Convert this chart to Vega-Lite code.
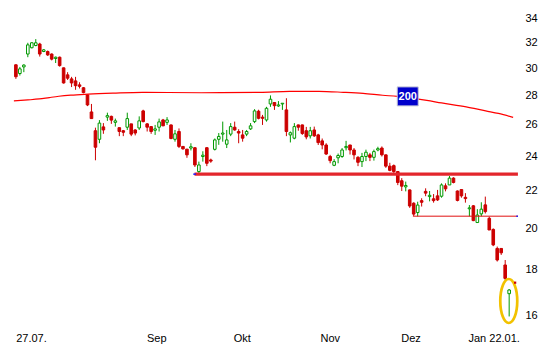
{
  "$schema": "https://vega.github.io/schema/vega-lite/v6.json",
  "width": 518,
  "height": 330,
  "autosize": "none",
  "padding": {"left": 5, "top": 0, "right": 17, "bottom": 30},
  "background": "white",
  "config": {
    "view": {"stroke": null},
    "axis": {"domain": false, "ticks": false, "grid": false, "labelFont": "Liberation Sans", "labelFontSize": 11, "labelColor": "#000000", "title": null}
  },
  "datasets": {
    "candles": [
      {"i":0,"o":30.26,"h":30.3,"l":29.2,"c":29.36},
      {"i":1,"o":29.6,"h":30.1,"l":29.45,"c":29.95},
      {"i":2,"o":30.1,"h":30.3,"l":29.7,"c":30.24},
      {"i":3,"o":31.1,"h":32.0,"l":30.85,"c":31.83},
      {"i":4,"o":31.6,"h":32.05,"l":31.55,"c":32.0},
      {"i":5,"o":31.78,"h":32.3,"l":31.72,"c":32.0},
      {"i":6,"o":31.9,"h":32.0,"l":30.9,"c":31.1},
      {"i":7,"o":31.3,"h":31.5,"l":31.25,"c":31.43},
      {"i":8,"o":31.3,"h":31.38,"l":30.95,"c":31.03},
      {"i":9,"o":31.1,"h":31.15,"l":30.6,"c":30.7},
      {"i":10,"o":30.75,"h":30.9,"l":30.4,"c":30.85},
      {"i":11,"o":30.85,"h":30.9,"l":30.12,"c":30.2},
      {"i":12,"o":30.03,"h":30.05,"l":28.85,"c":28.9},
      {"i":13,"o":29.5,"h":29.7,"l":29.12,"c":29.25},
      {"i":14,"o":29.2,"h":29.35,"l":28.6,"c":28.9},
      {"i":15,"o":29.05,"h":29.35,"l":28.4,"c":28.7},
      {"i":16,"o":28.76,"h":28.95,"l":28.5,"c":28.65},
      {"i":17,"o":28.55,"h":28.6,"l":28.15,"c":28.2},
      {"i":18,"o":28.04,"h":28.05,"l":27.25,"c":27.33},
      {"i":19,"o":26.85,"h":27.4,"l":26.4,"c":26.4},
      {"i":20,"o":25.6,"h":25.8,"l":23.75,"c":24.55},
      {"i":21,"o":25.05,"h":26.3,"l":24.8,"c":26.1},
      {"i":22,"o":25.85,"h":26.1,"l":25.4,"c":25.65},
      {"i":23,"o":26.5,"h":26.8,"l":26.25,"c":26.6},
      {"i":24,"o":26.55,"h":26.6,"l":26.05,"c":26.3},
      {"i":25,"o":26.15,"h":26.4,"l":25.87,"c":26.25},
      {"i":26,"o":25.8,"h":25.8,"l":25.25,"c":25.55},
      {"i":27,"o":25.6,"h":25.65,"l":25.25,"c":25.5},
      {"i":28,"o":25.83,"h":26.8,"l":25.65,"c":26.4},
      {"i":29,"o":26.05,"h":26.05,"l":25.25,"c":25.38},
      {"i":30,"o":25.65,"h":25.7,"l":25.3,"c":25.45},
      {"i":31,"o":25.78,"h":26.55,"l":25.65,"c":26.25},
      {"i":32,"o":26.92,"h":27.0,"l":26.15,"c":26.2},
      {"i":33,"o":26.05,"h":26.1,"l":25.55,"c":25.83},
      {"i":34,"o":25.87,"h":25.9,"l":25.4,"c":25.55},
      {"i":35,"o":25.63,"h":25.98,"l":25.33,"c":25.72},
      {"i":36,"o":25.83,"h":26.4,"l":25.55,"c":26.18},
      {"i":37,"o":26.31,"h":26.38,"l":25.9,"c":25.92},
      {"i":38,"o":26.15,"h":26.5,"l":25.98,"c":26.31},
      {"i":39,"o":25.98,"h":26.0,"l":25.05,"c":25.1},
      {"i":40,"o":25.05,"h":25.65,"l":24.9,"c":25.4},
      {"i":41,"o":25.55,"h":25.75,"l":24.5,"c":24.6},
      {"i":42,"o":24.6,"h":24.6,"l":24.4,"c":24.45},
      {"i":43,"o":24.43,"h":24.45,"l":23.9,"c":24.08},
      {"i":44,"o":24.5,"h":24.8,"l":24.35,"c":24.58},
      {"i":45,"o":24.52,"h":24.55,"l":23.35,"c":23.47},
      {"i":46,"o":23.08,"h":23.67,"l":23.0,"c":23.47},
      {"i":47,"o":23.98,"h":24.3,"l":23.67,"c":24.06},
      {"i":48,"o":24.52,"h":24.55,"l":23.4,"c":23.57},
      {"i":49,"o":23.77,"h":23.85,"l":23.6,"c":23.7},
      {"i":50,"o":24.42,"h":25.1,"l":24.35,"c":25.01},
      {"i":51,"o":25.05,"h":25.45,"l":24.7,"c":25.23},
      {"i":52,"o":25.38,"h":26.2,"l":24.9,"c":25.45},
      {"i":53,"o":24.74,"h":25.65,"l":24.5,"c":25.01},
      {"i":54,"o":25.38,"h":26.1,"l":25.25,"c":25.87},
      {"i":55,"o":25.83,"h":26.2,"l":25.6,"c":25.65},
      {"i":56,"o":25.55,"h":25.7,"l":24.8,"c":25.45},
      {"i":57,"o":25.33,"h":25.65,"l":24.9,"c":25.12},
      {"i":58,"o":25.38,"h":25.65,"l":25.25,"c":25.55},
      {"i":59,"o":25.72,"h":26.1,"l":25.65,"c":25.92},
      {"i":60,"o":26.2,"h":27.04,"l":26.1,"c":26.92},
      {"i":61,"o":26.9,"h":27.0,"l":26.35,"c":26.42},
      {"i":62,"o":26.5,"h":26.65,"l":25.98,"c":26.42},
      {"i":63,"o":26.31,"h":27.2,"l":26.2,"c":27.1},
      {"i":64,"o":27.4,"h":28.0,"l":27.2,"c":27.73},
      {"i":65,"o":27.5,"h":27.5,"l":26.99,"c":27.28},
      {"i":66,"o":27.26,"h":27.6,"l":27.2,"c":27.33},
      {"i":67,"o":27.4,"h":27.45,"l":26.99,"c":27.45},
      {"i":68,"o":26.99,"h":27.8,"l":25.25,"c":25.55},
      {"i":69,"o":25.33,"h":25.55,"l":24.85,"c":25.47},
      {"i":70,"o":25.12,"h":26.1,"l":25.05,"c":25.87},
      {"i":71,"o":25.98,"h":26.0,"l":25.6,"c":25.83},
      {"i":72,"o":25.98,"h":26.0,"l":25.33,"c":25.42},
      {"i":73,"o":25.6,"h":25.85,"l":25.05,"c":25.2},
      {"i":74,"o":25.27,"h":25.85,"l":25.1,"c":25.6},
      {"i":75,"o":25.65,"h":25.87,"l":25.2,"c":25.27},
      {"i":76,"o":25.33,"h":25.4,"l":24.69,"c":24.84},
      {"i":77,"o":24.95,"h":25.1,"l":24.42,"c":24.69},
      {"i":78,"o":24.69,"h":24.8,"l":24.08,"c":24.13},
      {"i":79,"o":23.98,"h":24.08,"l":23.57,"c":23.73},
      {"i":80,"o":23.45,"h":23.82,"l":23.4,"c":23.67},
      {"i":81,"o":23.9,"h":24.16,"l":23.57,"c":24.04},
      {"i":82,"o":23.98,"h":24.5,"l":23.9,"c":24.38},
      {"i":83,"o":24.52,"h":24.95,"l":24.35,"c":24.6},
      {"i":84,"o":24.69,"h":24.7,"l":24.1,"c":24.38},
      {"i":85,"o":24.38,"h":24.5,"l":23.8,"c":24.08},
      {"i":86,"o":23.93,"h":24.0,"l":23.4,"c":23.63},
      {"i":87,"o":23.67,"h":24.2,"l":23.35,"c":23.98},
      {"i":88,"o":23.98,"h":24.4,"l":23.7,"c":24.24},
      {"i":89,"o":24.08,"h":24.2,"l":23.7,"c":23.93},
      {"i":90,"o":23.93,"h":24.4,"l":23.73,"c":24.28},
      {"i":91,"o":24.38,"h":24.58,"l":24.3,"c":24.46},
      {"i":92,"o":24.5,"h":24.6,"l":23.98,"c":24.08},
      {"i":93,"o":24.08,"h":24.1,"l":23.3,"c":23.4},
      {"i":94,"o":23.4,"h":23.6,"l":23.1,"c":23.15},
      {"i":95,"o":23.43,"h":23.5,"l":23.0,"c":23.08},
      {"i":96,"o":23.08,"h":23.1,"l":22.3,"c":22.45},
      {"i":97,"o":22.55,"h":22.7,"l":21.97,"c":22.24},
      {"i":98,"o":22.2,"h":22.5,"l":21.95,"c":22.28},
      {"i":99,"o":22.03,"h":22.05,"l":21.05,"c":21.15},
      {"i":100,"o":21.3,"h":21.35,"l":20.62,"c":20.72},
      {"i":101,"o":20.8,"h":21.38,"l":20.6,"c":21.2},
      {"i":102,"o":21.44,"h":21.57,"l":21.12,"c":21.35},
      {"i":103,"o":21.95,"h":22.12,"l":21.68,"c":21.85},
      {"i":104,"o":21.66,"h":21.97,"l":21.4,"c":21.73},
      {"i":105,"o":21.54,"h":21.8,"l":21.33,"c":21.44},
      {"i":106,"o":21.7,"h":22.03,"l":21.42,"c":21.48},
      {"i":107,"o":21.68,"h":22.4,"l":21.6,"c":22.31},
      {"i":108,"o":22.26,"h":22.4,"l":21.95,"c":22.09},
      {"i":109,"o":22.31,"h":22.82,"l":22.31,"c":22.7},
      {"i":110,"o":22.7,"h":22.75,"l":22.4,"c":22.45},
      {"i":111,"o":21.97,"h":22.0,"l":21.4,"c":21.45},
      {"i":112,"o":22.05,"h":22.05,"l":21.6,"c":21.7},
      {"i":113,"o":21.62,"h":21.85,"l":21.33,"c":21.55},
      {"i":114,"o":21.0,"h":21.2,"l":20.6,"c":21.05},
      {"i":115,"o":21.16,"h":21.2,"l":20.35,"c":20.38},
      {"i":116,"o":20.28,"h":20.98,"l":20.28,"c":20.67},
      {"i":117,"o":20.73,"h":21.35,"l":20.6,"c":20.98},
      {"i":118,"o":21.21,"h":21.66,"l":20.75,"c":20.85},
      {"i":119,"o":20.5,"h":20.58,"l":19.9,"c":19.9},
      {"i":120,"o":19.93,"h":19.98,"l":19.1,"c":19.16},
      {"i":121,"o":18.99,"h":19.08,"l":18.37,"c":18.44},
      {"i":122,"o":18.99,"h":19.0,"l":18.68,"c":18.78},
      {"i":123,"o":18.21,"h":18.44,"l":17.53,"c":17.6},
      {"i":124,"o":16.93,"h":17.13,"l":15.98,"c":17.09}
    ],
    "ma200": [
      {"i":-0.5,"v":27.61},{"i":3,"v":27.68},{"i":5.9,"v":27.75},{"i":8.4,"v":27.85},
      {"i":10.8,"v":27.94},{"i":13.8,"v":28.02},{"i":18.2,"v":28.09},{"i":24.4,"v":28.16},
      {"i":31.8,"v":28.22},{"i":46.6,"v":28.19},{"i":61.4,"v":28.22},{"i":68.8,"v":28.29},
      {"i":76.2,"v":28.29},{"i":82.3,"v":28.22},{"i":87.3,"v":28.14},{"i":92.2,"v":28.01},
      {"i":95.9,"v":27.93},{"i":103.3,"v":27.65},{"i":107,"v":27.47},{"i":113.2,"v":27.2},
      {"i":118.1,"v":26.92},{"i":121.3,"v":26.75},{"i":125,"v":26.48}
    ],
    "support": [{"x1":44.9,"x2":126.2,"v":22.93}],
    "support2": [{"x1":99.8,"x2":126.2,"v":20.61}],
    "ends": [{"x1":44.6,"x2":45.3,"v":22.93},{"x1":125.8,"x2":126.2,"v":20.61}],
    "label200": [{"i":98.5,"v":27.93,"t":"200"}],
    "ring": [{"i":123.9,"v":16.62}],
    "dot": [{"i":125.5,"v":17.41}]
  },
  "layer": [
    {
      "data": {"name": "candles"},
      "mark": {"type": "rule", "strokeWidth": 1},
      "encoding": {
        "x": {"field": "i", "type": "quantitative", "scale": {"domain": [-1.479, 126.22], "nice": false, "zero": false},
              "axis": {"values": [3.8, 35.3, 56.8, 78.9, 99.2, 120.1], "labelPadding": 2, "labelOverlap": false, "labelFlush": false,
                       "labelExpr": "datum.value < 10 ? '27.07.' : datum.value < 40 ? 'Sep' : datum.value < 60 ? 'Okt' : datum.value < 85 ? 'Nov' : datum.value < 110 ? 'Dez' : 'Jan 22.01.'"}},
        "y": {"field": "l", "type": "quantitative", "scale": {"type": "log", "domain": [15.44, 35.67], "nice": false, "zero": false},
              "axis": {"orient": "right", "values": [16, 18, 20, 22, 24, 26, 28, 30, 32, 34], "labelPadding": 2, "labelOverlap": false, "labelFlush": false, "format": "d"}},
        "y2": {"field": "h"},
        "color": {"condition": {"test": "datum.c >= datum.o", "value": "#009900"}, "value": "#cc0000"}
      }
    },
    {
      "data": {"name": "candles"},
      "mark": {"type": "bar", "width": 2.6, "strokeWidth": 1},
      "encoding": {
        "x": {"field": "i", "type": "quantitative"},
        "y": {"field": "o", "type": "quantitative"},
        "y2": {"field": "c"},
        "fill": {"condition": {"test": "datum.c >= datum.o", "value": "#ffffff"}, "value": "#cc0000"},
        "stroke": {"condition": {"test": "datum.c >= datum.o", "value": "#009900"}, "value": "#cc0000"}
      }
    },
    {
      "data": {"name": "support"},
      "mark": {"type": "rule", "color": "#e3262c", "strokeWidth": 3.3},
      "encoding": {
        "x": {"field": "x1", "type": "quantitative"},
        "x2": {"field": "x2"},
        "y": {"field": "v", "type": "quantitative"}
      }
    },
    {
      "data": {"name": "support2"},
      "mark": {"type": "rule", "color": "#e01010", "strokeWidth": 1},
      "encoding": {
        "x": {"field": "x1", "type": "quantitative"},
        "x2": {"field": "x2"},
        "y": {"field": "v", "type": "quantitative"}
      }
    },
    {
      "data": {"name": "ends"},
      "mark": {"type": "rule", "color": "#1a1aff", "strokeWidth": 1.5},
      "encoding": {
        "x": {"field": "x1", "type": "quantitative"},
        "x2": {"field": "x2"},
        "y": {"field": "v", "type": "quantitative"}
      }
    },
    {
      "data": {"name": "ma200"},
      "mark": {"type": "line", "color": "#ff0000", "strokeWidth": 1.2, "interpolate": "monotone"},
      "encoding": {
        "x": {"field": "i", "type": "quantitative"},
        "y": {"field": "v", "type": "quantitative"}
      }
    },
    {
      "data": {"name": "label200"},
      "mark": {"type": "point", "shape": "M-1,-0.905L1,-0.905L1,0.905L-1,0.905Z", "size": 441, "filled": true, "fill": "#0000cc", "fillOpacity": 1, "stroke": "#c8c8d8", "strokeWidth": 1, "opacity": 1},
      "encoding": {
        "x": {"field": "i", "type": "quantitative"},
        "y": {"field": "v", "type": "quantitative"}
      }
    },
    {
      "data": {"name": "label200"},
      "mark": {"type": "text", "font": "Liberation Sans", "fontSize": 11, "fontWeight": "bold", "color": "#ffffff", "align": "center", "baseline": "middle", "dy": 0.5},
      "encoding": {
        "x": {"field": "i", "type": "quantitative"},
        "y": {"field": "v", "type": "quantitative"},
        "text": {"field": "t"}
      }
    },
    {
      "data": {"name": "ring"},
      "mark": {"type": "point", "shape": "M0,-1C0.2132,-1,0.386,-0.5523,0.386,0C0.386,0.5523,0.2132,1,0,1C-0.2132,1,-0.386,0.5523,-0.386,0C-0.386,-0.5523,-0.2132,-1,0,-1Z", "size": 1936, "filled": false, "stroke": "#f2c200", "strokeWidth": 2.7, "opacity": 1},
      "encoding": {
        "x": {"field": "i", "type": "quantitative"},
        "y": {"field": "v", "type": "quantitative"}
      }
    },
    {
      "data": {"name": "dot"},
      "mark": {"type": "square", "size": 5, "color": "#cc0000", "opacity": 1},
      "encoding": {
        "x": {"field": "i", "type": "quantitative"},
        "y": {"field": "v", "type": "quantitative"}
      }
    }
  ]
}
